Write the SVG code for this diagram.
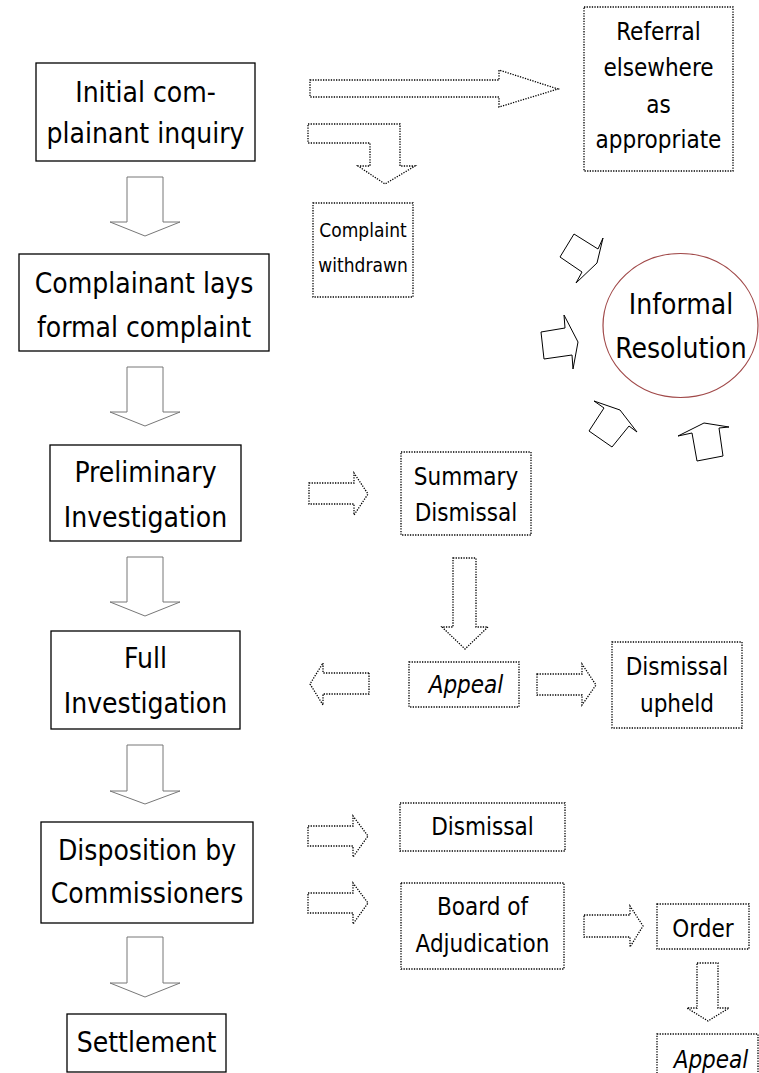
<svg xmlns="http://www.w3.org/2000/svg" width="759" height="1073" viewBox="0 0 759 1073">
<style>
text{font-family:"DejaVu Sans Condensed","DejaVu Sans","Liberation Sans",sans-serif;fill:#000;text-anchor:middle}
.big{font-size:28px}
.sm{font-size:24px}
.it{font-style:italic}
.box{fill:#fff;stroke:#000;stroke-width:1.3}
.dbox{fill:#fff;stroke:#000;stroke-width:1.3;stroke-dasharray:1.3 1.3}
.arr{fill:#fff;stroke:#777;stroke-width:1}
.darr{fill:#fff;stroke:#000;stroke-width:1.3;stroke-dasharray:1.3 1.3}
.sarr{fill:#fff;stroke:#000;stroke-width:1}
</style>
<rect width="759" height="1073" fill="#fff"/>
<g id="connectors">
<path class="arr" d="M127,177 H163 V222 H180 L145,236 L110,222 H127 Z"/>
<path class="arr" d="M127,367 H163 V412 H180 L145,426 L110,412 H127 Z"/>
<path class="arr" d="M127,557 H163 V602 H180 L145,616 L110,602 H127 Z"/>
<path class="arr" d="M127,745 H163 V791 H180 L145,804 L110,791 H127 Z"/>
<path class="arr" d="M127,937 H163 V983 H180 L145,997 L110,983 H127 Z"/>
<path class="darr" d="M310,80 H499 V70 L558,89 L499,107 V97 H310 Z"/>
<path class="darr" d="M308,124 H400 V166 H415 L385,184 L358,166 H370 V143 H308 Z"/>
<path class="darr" d="M309,483 H354 V473 L368,494 L354,515 V504 H309 Z"/>
<path class="darr" d="M453,558 H476 V627 H488 L465,649 L442,627 H453 Z"/>
<path class="darr" d="M369,673 V694 H323 V705 L310,684 L323,663 V673 Z"/>
<path class="darr" d="M537,674 H582 V664 L596,685 L582,705 V695 H537 Z"/>
<path class="darr" d="M308,826 H353 V816 L368,836 L353,857 V846 H308 Z"/>
<path class="darr" d="M308,893 H353 V883 L368,903 L353,924 V913 H308 Z"/>
<path class="darr" d="M584,915 H630 V906 L643,926 L630,947 V937 H584 Z"/>
<path class="darr" d="M697,963 H718 V1008 H729 L708,1021 L687,1008 H697 Z"/>
<polygon class="sarr" points="574,234 598,249 603,238 597,263 576,283 582,272 560,257"/>
<polygon class="sarr" points="541,332 565,328 564,315 578,342 573,369 572,355 544,359"/>
<polygon class="sarr" points="604,408 594,401 620,410 637,432 629,426 612,447 589,431"/>
<polygon class="sarr" points="692,433 678,436 704,423 729,427 719,428 723,456 697,461"/>
</g>
<g id="initial">
<rect class="box" x="36" y="63" width="219" height="98"/>
<text class="big" x="145.5" y="102">Initial com-</text>
<text class="big" x="145.5" y="143">plainant inquiry</text>
</g>
<g id="formal">
<rect class="box" x="19" y="254" width="250" height="97"/>
<text class="big" x="144" y="293">Complainant lays</text>
<text class="big" x="144" y="337">formal complaint</text>
</g>
<g id="prelim">
<rect class="box" x="50" y="445" width="191" height="96"/>
<text class="big" x="145.5" y="482">Preliminary</text>
<text class="big" x="145.5" y="527">Investigation</text>
</g>
<g id="full">
<rect class="box" x="51" y="631" width="189" height="98"/>
<text class="big" x="145.5" y="668">Full</text>
<text class="big" x="145.5" y="713">Investigation</text>
</g>
<g id="disposition">
<rect class="box" x="41" y="822" width="212" height="101"/>
<text class="big" x="147" y="860">Disposition by</text>
<text class="big" x="147" y="903">Commissioners</text>
</g>
<g id="settlement">
<rect class="box" x="67" y="1014" width="159" height="58"/>
<text class="big" x="146.5" y="1052">Settlement</text>
</g>
<g id="referral">
<rect class="dbox" x="584" y="7" width="149" height="164"/>
<text class="sm" x="658.5" y="40">Referral</text>
<text class="sm" x="658.5" y="76">elsewhere</text>
<text class="sm" x="658.5" y="113">as</text>
<text class="sm" x="658.5" y="148">appropriate</text>
</g>
<g id="withdrawn">
<rect class="dbox" x="313" y="203" width="100" height="94"/>
<text x="363" y="237" style="font-size:19px">Complaint</text>
<text x="363" y="272" style="font-size:19px">withdrawn</text>
</g>
<g id="informal">
<ellipse cx="680.5" cy="325.5" rx="77.5" ry="72" fill="#fff" stroke="#a04848" stroke-width="1.2"/>
<text class="big" x="681" y="314">Informal</text>
<text class="big" x="681" y="358">Resolution</text>
</g>
<g id="summary">
<rect class="dbox" x="401" y="452" width="130" height="83"/>
<text class="sm" x="466" y="485">Summary</text>
<text class="sm" x="466" y="521">Dismissal</text>
</g>
<g id="appeal1">
<rect class="dbox" x="409" y="662" width="110" height="45"/>
<text class="sm it" x="466" y="693">Appeal</text>
</g>
<g id="upheld">
<rect class="dbox" x="612" y="642" width="130" height="86"/>
<text class="sm" x="677" y="675">Dismissal</text>
<text class="sm" x="677" y="712">upheld</text>
</g>
<g id="dismissal">
<rect class="dbox" x="400" y="803" width="165" height="48"/>
<text class="sm" x="482.5" y="835">Dismissal</text>
</g>
<g id="board">
<rect class="dbox" x="401" y="883" width="163" height="86"/>
<text class="sm" x="482.5" y="915">Board of</text>
<text class="sm" x="482.5" y="952">Adjudication</text>
</g>
<g id="order">
<rect class="dbox" x="657" y="904" width="92" height="45"/>
<text class="sm" x="703" y="937">Order</text>
</g>
<g id="appeal2">
<rect class="dbox" x="657" y="1034" width="101" height="50"/>
<text class="sm it" x="711" y="1068">Appeal</text>
</g>
</svg>
